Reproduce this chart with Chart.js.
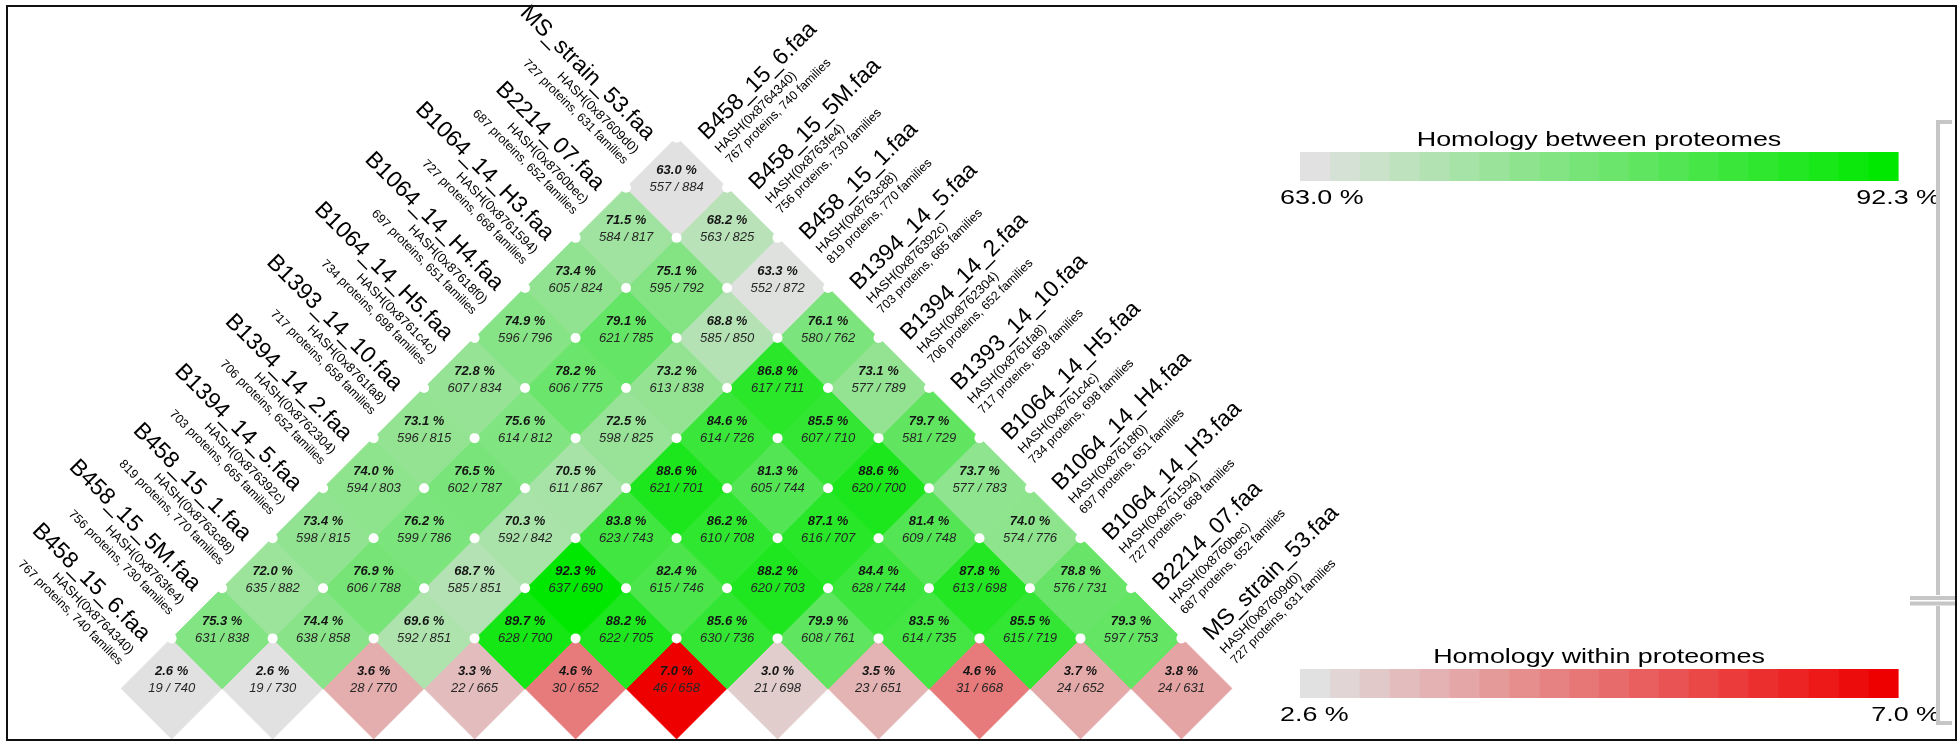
<!DOCTYPE html>
<html>
<head>
<meta charset="utf-8">
<script src="https://cdn.jsdelivr.net/npm/chart.js@4.4.1/dist/chart.umd.min.js"></script>
<style>
  html, body { margin: 0; padding: 0; background: #ffffff; }
  #wrap { width: 1959px; height: 742px; position: relative; }
</style>
</head>
<body>
<div id="wrap"><canvas id="matrix" width="1959" height="742"></canvas></div>
<script>
// Proteomes, in matrix order
const genomeNames = ['B458_15_6.faa', 'B458_15_5M.faa', 'B458_15_1.faa', 'B1394_14_5.faa', 'B1394_14_2.faa',
  'B1393_14_10.faa', 'B1064_14_H5.faa', 'B1064_14_H4.faa', 'B1064_14_H3.faa', 'B2214_07.faa', 'MS_strain_53.faa'];
const genomeHashes = ['0x8764340', '0x8763fe4', '0x8763c88', '0x876392c', '0x8762304',
  '0x8761fa8', '0x8761c4c', '0x87618f0', '0x8761594', '0x8760bec', '0x87609d0'];
const genomeProteins = [767, 756, 819, 703, 706, 717, 734, 697, 727, 687, 727];
const genomeFamilies = [740, 730, 770, 665, 652, 658, 698, 651, 668, 652, 631];

// Homology within each proteome (diagonal)
const withinPct = [2.6, 2.6, 3.6, 3.3, 4.6, 7.0, 3.0, 3.5, 4.6, 3.7, 3.8];
const withinHits = [19, 19, 28, 22, 30, 46, 21, 23, 31, 24, 24];

// Homology between proteomes; row k holds pairs (i, i + k + 1)
const betweenPct = [
  [75.3, 74.4, 69.6, 89.7, 88.2, 85.6, 79.9, 83.5, 85.5, 79.3],
  [72.0, 76.9, 68.7, 92.3, 82.4, 88.2, 84.4, 87.8, 78.8],
  [73.4, 76.2, 70.3, 83.8, 86.2, 87.1, 81.4, 74.0],
  [74.0, 76.5, 70.5, 88.6, 81.3, 88.6, 73.7],
  [73.1, 75.6, 72.5, 84.6, 85.5, 79.7],
  [72.8, 78.2, 73.2, 86.8, 73.1],
  [74.9, 79.1, 68.8, 76.1],
  [73.4, 75.1, 63.3],
  [71.5, 68.2],
  [63.0]
];
const betweenHits = [
  [631, 638, 592, 628, 622, 630, 608, 614, 615, 597],
  [635, 606, 585, 637, 615, 620, 628, 613, 576],
  [598, 599, 592, 623, 610, 616, 609, 574],
  [594, 602, 611, 621, 605, 620, 577],
  [596, 614, 598, 614, 607, 581],
  [607, 606, 613, 617, 577],
  [596, 621, 585, 580],
  [605, 595, 552],
  [584, 563],
  [557]
];
const betweenTotals = [
  [838, 858, 851, 700, 705, 736, 761, 735, 719, 753],
  [882, 788, 851, 690, 746, 703, 744, 698, 731],
  [815, 786, 842, 743, 708, 707, 748, 776],
  [803, 787, 867, 701, 744, 700, 783],
  [815, 812, 825, 726, 710, 729],
  [834, 775, 838, 711, 789],
  [796, 785, 850, 762],
  [824, 792, 872],
  [817, 825],
  [884]
];

// Colour-bar ranges
const betweenRange = [63.0, 92.3];
const withinRange = [2.6, 7.0];

// ---- colours ----
const GREY = [225, 225, 225];
const GREEN = [0, 232, 0];
const RED = [238, 0, 0];
function mix(a, b, t) {
  t = Math.max(0, Math.min(1, t));
  return 'rgb(' + a.map((v, k) => Math.round(v + (b[k] - v) * t)).join(',') + ')';
}
const betweenColor = v => mix(GREY, GREEN, (v - betweenRange[0]) / (betweenRange[1] - betweenRange[0]));
const withinColor = v => mix(GREY, RED, (v - withinRange[0]) / (withinRange[1] - withinRange[0]));

// ---- matrix cells in a rotated grid: x = i + j, y = j - i ----
const N = genomeNames.length;
const withinPoints = withinPct.map((p, i) => ({ x: 2 * i, y: 0, pct: p, hits: withinHits[i], total: genomeFamilies[i] }));
const betweenPoints = [];
betweenPct.forEach((row, k) => {
  const d = k + 1;
  row.forEach((p, i) => betweenPoints.push({ x: 2 * i + d, y: d, pct: p, hits: betweenHits[k][i], total: betweenTotals[k][i] }));
});
// grid corners where four cells meet
const cornerPoints = [];
for (let r = 1; r <= N; r++) {
  for (let m = 0; m <= N - r; m++) cornerPoints.push({ x: r - 1 + 2 * m, y: r });
}

// grid placement on the canvas
const ORIGIN_X = 167.5, ORIGIN_Y = 692.8, STEP = 50.75;
const W = 1959, H = 742;

const FONT = "'Liberation Sans', Arial, Helvetica, sans-serif";

const cellPx = ctx => {
  const s = ctx.chart.scales.x;
  return s ? Math.abs(s.getPixelForValue(1) - s.getPixelForValue(0)) : STEP;
};

// ---- plugins ----
const cellLabels = {
  id: 'cellLabels',
  afterDatasetsDraw(chart) {
    const c = chart.ctx;
    c.save();
    c.textAlign = 'center';
    c.textBaseline = 'middle';
    [1, 2].forEach(di => {
      const meta = chart.getDatasetMeta(di);
      const data = chart.data.datasets[di].data;
      meta.data.forEach((el, k) => {
        const d = data[k];
        c.fillStyle = '#151515';
        c.font = 'italic bold 13px ' + FONT;
        c.fillText(d.pct.toFixed(1) + ' %', el.x, el.y - 17);
        c.fillStyle = '#262626';
        c.font = 'italic 13px ' + FONT;
        c.fillText(d.hits + ' / ' + d.total, el.x, el.y);
      });
    });
    c.restore();
  }
};

const genomeLabels = {
  id: 'genomeLabels',
  afterDatasetsDraw(chart) {
    const c = chart.ctx, sx = chart.scales.x, sy = chart.scales.y;
    c.save();
    c.fillStyle = '#000';
    c.textBaseline = 'middle';
    genomeNames.forEach((name, g) => {
      const lines = [
        [name, '23px ' + FONT, -18],
        ['HASH(' + genomeHashes[g] + ')', '13px ' + FONT, 3],
        [genomeProteins[g] + ' proteins, ' + genomeFamilies[g] + ' families', '12.5px ' + FONT, 18]
      ];
      // left side: continues the diagonal of cells (0, g) ... (g, g)
      let px = sx.getPixelForValue(g), py = sy.getPixelForValue(g);
      c.save();
      c.translate(px, py);
      c.rotate(Math.PI / 4);
      c.textAlign = 'right';
      lines.forEach(([t, f, dy]) => { c.font = f; c.fillText(t, -54, dy); });
      c.restore();
      // right side: continues the diagonal of cells (g, g) ... (g, N-1)
      px = sx.getPixelForValue(g + N - 1); py = sy.getPixelForValue(N - 1 - g);
      c.save();
      c.translate(px, py);
      c.rotate(-Math.PI / 4);
      c.textAlign = 'left';
      lines.forEach(([t, f, dy]) => { c.font = f; c.fillText(t, 55, dy); });
      c.restore();
    });
    c.restore();
  }
};

// text drawn slightly widened, as in the colour-bar captions
function wideText(c, text, x, y, align, stretch) {
  c.save();
  c.translate(x, y);
  c.scale(stretch, 1);
  c.textAlign = align;
  c.fillText(text, 0, 0);
  c.restore();
}

function drawColorBar(c, title, range, colorFn, top) {
  const left = 1300, right = 1898, barH = 29, steps = 20, stretch = 1.28;
  const w = (right - left) / steps;
  for (let k = 0; k < steps; k++) {
    const v = range[0] + (range[1] - range[0]) * k / (steps - 1);
    c.fillStyle = colorFn(v);
    c.fillRect(left + k * w, top, w + 0.6, barH);
  }
  c.fillStyle = '#000';
  c.font = '21px ' + FONT;
  c.textBaseline = 'middle';
  wideText(c, title, (left + right) / 2, top - 12, 'center', stretch);
  wideText(c, range[0].toFixed(1) + ' %', 1280, top + barH + 17, 'left', stretch);
  wideText(c, range[1].toFixed(1) + ' %', 1940, top + barH + 17, 'right', stretch);
}

const colorBars = {
  id: 'colorBars',
  afterDraw(chart) {
    const c = chart.ctx;
    c.save();
    drawColorBar(c, 'Homology between proteomes', betweenRange, betweenColor, 152);
    drawColorBar(c, 'Homology within proteomes', withinRange, withinColor, 669);
    c.restore();
  }
};

const frame = {
  id: 'frame',
  afterDraw(chart) {
    const c = chart.ctx;
    c.save();
    // bracket marks on the right edge
    c.strokeStyle = '#c6c6c6';
    c.lineWidth = 4;
    c.beginPath();
    c.moveTo(1952, 122); c.lineTo(1938, 122); c.lineTo(1938, 595);
    c.moveTo(1910, 598); c.lineTo(1956, 598);
    c.moveTo(1910, 603.5); c.lineTo(1956, 603.5);
    c.moveTo(1938, 606); c.lineTo(1938, 723); c.lineTo(1952, 723);
    c.stroke();
    // outer border
    c.strokeStyle = '#111';
    c.lineWidth = 2;
    c.strokeRect(7, 6, 1949, 734);
    c.restore();
  }
};

new Chart(document.getElementById('matrix'), {
  type: 'scatter',
  data: {
    datasets: [
      {
        label: 'corners',
        data: cornerPoints,
        pointStyle: 'circle',
        pointRadius: 5,
        pointBackgroundColor: '#ffffff',
        pointBorderWidth: 0,
        clip: false,
        order: 0
      },
      {
        label: 'between',
        data: betweenPoints,
        pointStyle: 'rectRot',
        pointRadius: cellPx,
        pointBackgroundColor: ctx => betweenColor(ctx.raw.pct),
        pointBorderColor: ctx => betweenColor(ctx.raw.pct),
        pointBorderWidth: 0.8,
        clip: false,
        order: 1
      },
      {
        label: 'within',
        data: withinPoints,
        pointStyle: 'rectRot',
        pointRadius: cellPx,
        pointBackgroundColor: ctx => withinColor(ctx.raw.pct),
        pointBorderColor: ctx => withinColor(ctx.raw.pct),
        pointBorderWidth: 0.8,
        clip: false,
        order: 2
      }
    ]
  },
  options: {
    responsive: false,
    devicePixelRatio: 1,
    animation: false,
    events: [],
    layout: { padding: 0 },
    scales: {
      x: { type: 'linear', display: false, min: -ORIGIN_X / STEP, max: (W - ORIGIN_X) / STEP },
      y: { type: 'linear', display: false, min: (ORIGIN_Y - H) / STEP, max: ORIGIN_Y / STEP }
    },
    plugins: { legend: { display: false }, tooltip: { enabled: false } }
  },
  plugins: [cellLabels, genomeLabels, colorBars, frame]
});
</script>
</body>
</html>
